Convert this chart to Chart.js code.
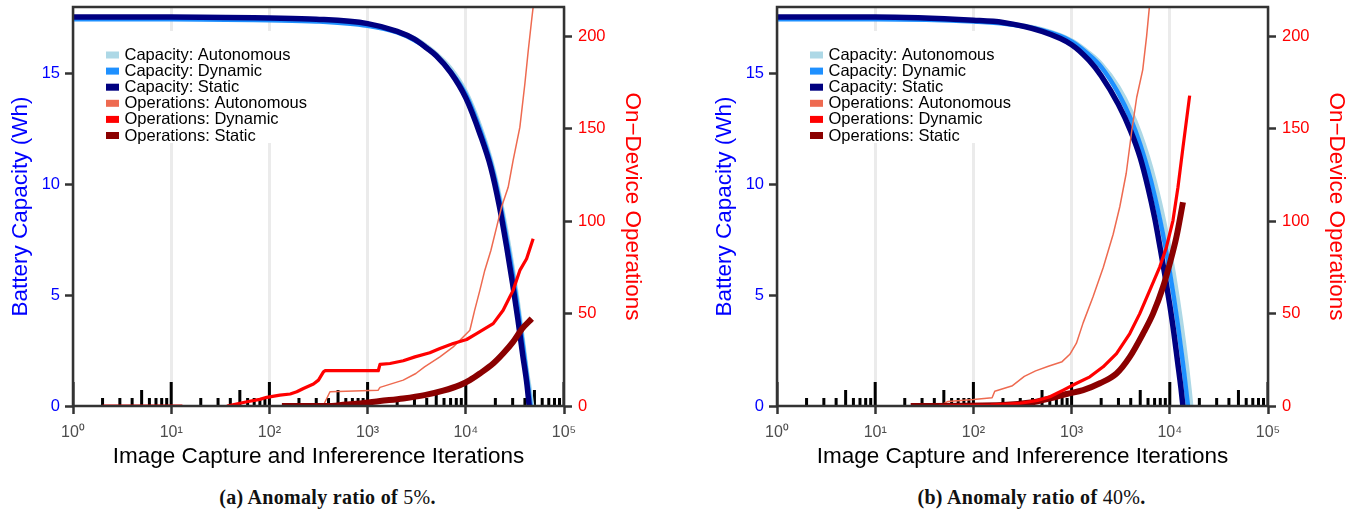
<!DOCTYPE html>
<html><head><meta charset="utf-8">
<script src="https://cdn.jsdelivr.net/npm/chart.js@4.4.0/dist/chart.umd.min.js"></script>
<style>
html,body{margin:0;padding:0;background:#fff;width:1359px;height:516px;overflow:hidden;position:relative;}
canvas{position:absolute;top:0;}
#cA{left:0px} #cB{left:704px}
.cap{position:absolute;top:486px;width:655px;text-align:center;font-family:"Liberation Serif","Times New Roman",serif;font-size:20px;font-weight:bold;color:#111;letter-spacing:0.3px;}
.cap .n{font-weight:normal;}
</style></head>
<body>
<canvas id="cA" width="655" height="480"></canvas>
<canvas id="cB" width="655" height="480"></canvas>
<div class="cap" style="left:0px">(a) Anomaly ratio of <span class="n">5%</span>.</div>
<div class="cap" style="left:704px">(b) Anomaly ratio of <span class="n">40%</span>.</div>
<script>
// ---------- axis / tick data ----------
const xTickValues = [1, 10, 100, 1000, 10000, 100000];
const xTickLabels = ['10⁰', '10¹', '10²', '10³', '10⁴', '10⁵'];
const capTickValues = [0, 5, 10, 15];
const opsTickValues = [0, 50, 100, 150, 200];
const capMax = 18;
const opsMax = 216;
const seriesLabels = ['Capacity: Autonomous', 'Capacity: Dynamic', 'Capacity: Static',
  'Operations: Autonomous', 'Operations: Dynamic', 'Operations: Static'];
const seriesColors = ['#ADD8E6', '#1E90FF', '#000080', '#EE6A50', '#FF0000', '#8B0000'];

// log tick rug along the bottom (positions and heights in Wh)
const rugLongX = [1, 10, 100, 1000, 10000, 100000];
const rugMidX = [5, 50, 500, 5000, 50000];
const rugShortX = [2, 3, 4, 6, 7, 8, 9, 20, 30, 40, 60, 70, 80, 90, 200, 300, 400, 600, 700, 800, 900,
  2000, 3000, 4000, 6000, 7000, 8000, 9000, 20000, 30000, 40000, 60000, 70000, 80000, 90000];
const rugLongH = 1.08, rugMidH = 0.72, rugShortH = 0.36;

// ---------- panel (a): anomaly ratio 5% ----------
const aCapAutoX = [1, 10, 100, 300, 1000, 2000, 3000, 4000, 5000, 7000, 10000, 14000, 18000, 22000, 26000, 30000, 34000, 38000, 42000, 46000, 47600];
const aCapAutoY = [17.5, 17.5, 17.45, 17.4, 17.2, 16.9, 16.6, 16.25, 15.9, 15.25, 14.2, 12.65, 11.15, 9.55, 7.9, 6.3, 4.7, 3.1, 1.6, 0.5, 0];
const aCapDynX = [1, 10, 100, 300, 1000, 2000, 3000, 4000, 5000, 7000, 10000, 14000, 18000, 22000, 26000, 30000, 34000, 38000, 42000, 45800];
const aCapDynY = [17.45, 17.45, 17.4, 17.35, 17.15, 16.85, 16.5, 16.15, 15.8, 15.1, 14.05, 12.45, 10.95, 9.3, 7.55, 5.95, 4.35, 2.8, 1.3, 0];
const aCapStatX = [1, 10, 100, 300, 1000, 2000, 3000, 4000, 5000, 7000, 10000, 14000, 18000, 22000, 26000, 30000, 34000, 38000, 42000, 44200];
const aCapStatY = [17.55, 17.55, 17.5, 17.45, 17.25, 16.9, 16.55, 16.15, 15.8, 15.05, 13.9, 12.25, 10.75, 9.0, 7.2, 5.5, 3.87, 2.3, 0.95, 0];
const aOpsAutoX = [2, 352, 414, 1277, 1337, 2307, 3100, 3800, 5450, 7450, 9400, 11000, 12300, 13900, 15600, 18000, 20600, 23200, 27000, 30300, 35500, 39900, 43200, 46700, 50000];
const aOpsAutoY = [0, 0, 7.7, 8.5, 10.1, 14, 17.6, 21.2, 26.6, 32, 37.4, 41, 51.8, 62.6, 73.4, 84.2, 96.8, 108, 118.4, 132.8, 150.8, 174.2, 192.2, 208.4, 222];
const aOpsDynX = [2, 13, 25, 37, 59, 80, 94, 128, 163, 190, 222, 281, 316, 355, 370, 1285, 1337, 1690, 2307, 3035, 4300, 5450, 7450, 10200, 12880, 19000, 24000, 30300, 35500, 41600, 48500];
const aOpsDynY = [0, 0, null, 0, 2.3, 3.6, 4.7, 5.9, 6.5, 7.7, 9.5, 11.9, 14, 18.5, 19.1, 19.1, 22.5, 23, 24.5, 26.6, 28.8, 31.1, 33.8, 36, 39.2, 44.6, 51.8, 62.6, 73.4, 79.7, 90.5];
const aOpsStatX = [134, 380, 600, 837, 1336, 2307, 3800, 5890, 8710, 11000, 13900, 19000, 24000, 30300, 37500, 47000];
const aOpsStatY = [0, 0, 0.8, 1.4, 2.7, 4.1, 5.9, 8.3, 11.3, 14, 17.6, 23, 28.4, 34.7, 41.9, 47.3];

// ---------- panel (b): anomaly ratio 40% ----------
const bCapAutoX = [1, 10, 100, 200, 500, 1000, 1500, 2000, 3000, 4000, 5000, 6000, 7000, 8000, 9000, 10000, 11000, 12000, 13000, 14000, 15000, 16000, 16600];
const bCapAutoY = [17.5, 17.5, 17.4, 17.3, 17.0, 16.5, 15.95, 15.45, 14.4, 13.35, 12.3, 11.25, 10.2, 9.15, 8.1, 7.05, 6.0, 4.95, 3.9, 2.85, 1.8, 0.7, 0];
const bCapDynX = [1, 10, 100, 200, 500, 1000, 1500, 2000, 3000, 4000, 5000, 6000, 7000, 8000, 9000, 10000, 11000, 12000, 13000, 14000, 15300];
const bCapDynY = [17.45, 17.45, 17.35, 17.25, 16.95, 16.45, 15.85, 15.3, 14.1, 12.95, 11.8, 10.65, 9.5, 8.35, 7.2, 6.05, 4.9, 3.75, 2.6, 1.5, 0];
const bCapStatX = [1, 10, 100, 200, 500, 1000, 1500, 2000, 3000, 4000, 5000, 6000, 7000, 8000, 9000, 10000, 11000, 12000, 13000, 13600];
const bCapStatY = [17.55, 17.55, 17.4, 17.3, 16.9, 16.3, 15.6, 14.9, 13.6, 12.4, 11.2, 9.85, 8.5, 7.1, 5.8, 4.55, 3.3, 2.0, 0.8, 0];
const bOpsAutoX = [4, 45, 55, 100, 155, 165, 250, 330, 430, 580, 800, 960, 1120, 1310, 1650, 2100, 2650, 3100, 3600, 4100, 4600, 5300, 5800, 6300];
const bOpsAutoY = [0, 0, 2.5, 3.5, 4.5, 8, 11, 16, 19, 21.5, 24, 28, 34, 45, 59, 75, 93, 108, 126, 149, 167, 182, 200, 220];
const bOpsDynX = [45, 150, 300, 450, 602, 822, 1124, 1534, 2096, 2866, 3915, 4945, 6250, 7890, 9240, 10770, 12110, 13620, 15930];
const bOpsDynY = [0, 0.5, 1.5, 3, 5, 8.6, 12.3, 15.8, 21.2, 28.4, 39.2, 50, 62.6, 75.2, 86, 100.4, 118.4, 140, 168];
const bOpsStatX = [23, 200, 400, 602, 890, 1312, 1940, 2866, 3915, 5340, 6750, 8530, 9980, 11670, 13620];
const bOpsStatY = [0, 0.5, 2, 4.1, 6.5, 8.6, 12.3, 17.6, 26.6, 39.2, 50, 64.4, 77, 91.4, 110.3];

// ---------- helpers ----------
Chart.defaults.font.family = '"Liberation Sans", Arial, Helvetica, sans-serif';

function pts(xs, ys) { return xs.map((x, i) => ({ x: x, y: ys[i] })); }
function rugPoints() {
  const out = [];
  const add = (xs, h) => xs.forEach(x => { out.push({ x: x, y: 0 }, { x: x, y: h }, { x: x, y: null }); });
  add(rugShortX, rugShortH); add(rugMidX, rugMidH); add(rugLongX, rugLongH);
  return out;
}

const legendLayout = { boxX: 28, boxTop: 31, boxW: 222, boxH: 112, swatchX: 33, swatchW: 13, swatchH: 7,
  textX: 51.5, firstRowY: 55, rowStep: 16.1, font: '16.5px "Liberation Sans", Arial, sans-serif' };

const boxLegend = {
  id: 'boxLegend',
  beforeDatasetsDraw(chart) {
    const ctx = chart.ctx, a = chart.chartArea, L = legendLayout;
    ctx.save();
    ctx.fillStyle = '#FFFFFF';
    ctx.fillRect(a.left + L.boxX, L.boxTop, L.boxW, L.boxH);
    ctx.font = L.font;
    ctx.textBaseline = 'middle';
    ctx.textAlign = 'left';
    let row = 0;
    chart.data.datasets.forEach(ds => {
      if (!ds.label) return;
      const y = L.firstRowY + row * L.rowStep;
      ctx.fillStyle = ds.borderColor;
      ctx.fillRect(a.left + L.swatchX, y - L.swatchH / 2, L.swatchW, L.swatchH);
      ctx.fillStyle = '#000000';
      ctx.fillText(ds.label, a.left + L.textX, y + 0.5);
      row++;
    });
    ctx.restore();
  }
};
const frame = {
  id: 'frame',
  afterDatasetsDraw(chart) {
    const ctx = chart.ctx, a = chart.chartArea;
    ctx.save();
    ctx.strokeStyle = '#333333';
    ctx.lineWidth = 2.5;
    ctx.strokeRect(a.left, a.top, a.right - a.left, a.bottom - a.top);
    ctx.restore();
  }
};

function makeChart(id, s) {
  const common = { pointRadius: 0, pointHoverRadius: 0, fill: false, borderCapStyle: 'butt', borderJoinStyle: 'round', spanGaps: false };
  const datasets = [
    Object.assign({ label: seriesLabels[0], data: pts(s.capAutoX, s.capAutoY), yAxisID: 'yCap', borderColor: seriesColors[0], borderWidth: 4, order: 6, cubicInterpolationMode: 'monotone' }, common),
    Object.assign({ label: seriesLabels[1], data: pts(s.capDynX, s.capDynY), yAxisID: 'yCap', borderColor: seriesColors[1], borderWidth: 4.5, order: 5, cubicInterpolationMode: 'monotone' }, common),
    Object.assign({ label: seriesLabels[2], data: pts(s.capStatX, s.capStatY), yAxisID: 'yCap', borderColor: seriesColors[2], borderWidth: 5.5, order: 4, cubicInterpolationMode: 'monotone' }, common),
    Object.assign({ label: seriesLabels[3], data: pts(s.opsAutoX, s.opsAutoY), yAxisID: 'yOps', borderColor: seriesColors[3], borderWidth: 1.5, order: 3 }, common),
    Object.assign({ label: seriesLabels[4], data: pts(s.opsDynX, s.opsDynY), yAxisID: 'yOps', borderColor: seriesColors[4], borderWidth: 3.2, order: 1 }, common),
    Object.assign({ label: seriesLabels[5], data: pts(s.opsStatX, s.opsStatY), yAxisID: 'yOps', borderColor: seriesColors[5], borderWidth: 6, order: 2, cubicInterpolationMode: 'monotone' }, common),
    Object.assign({ label: '', data: rugPoints(), yAxisID: 'yCap', borderColor: '#000000', borderWidth: 3, order: 10 }, common)
  ];
  return new Chart(document.getElementById(id), {
    type: 'line',
    data: { datasets: datasets },
    plugins: [boxLegend, frame],
    options: {
      responsive: false, animation: false, devicePixelRatio: 1, events: [],
      layout: { padding: { top: 7, left: 0, right: 0, bottom: 0 } },
      plugins: { legend: { display: false }, tooltip: { enabled: false } },
      scales: {
        x: {
          type: 'logarithmic', position: 'bottom', min: 1, max: 100000,
          afterBuildTicks: sc => { sc.ticks = xTickValues.map(v => ({ value: v })); },
          afterFit: sc => { sc.height = 74; sc.paddingLeft = 0; sc.paddingRight = 0; },
          ticks: { callback: (v, i) => xTickLabels[i], color: '#4D4D4D', font: { size: 16 }, padding: 9, autoSkip: false, maxRotation: 0, minRotation: 0 },
          grid: { color: '#EBEBEB', lineWidth: 3, drawTicks: true, tickLength: 8, tickColor: '#333333', tickWidth: 2.5 },
          border: { display: false },
          title: { display: true, text: 'Image Capture and Infererence Iterations', color: '#000000', font: { size: 22.5 }, padding: { top: 0, bottom: 9.5 } }
        },
        yCap: {
          type: 'linear', position: 'left', min: 0, max: capMax,
          afterBuildTicks: sc => { sc.ticks = capTickValues.map(v => ({ value: v })); },
          afterFit: sc => { sc.width = 73; sc.paddingTop = 0; sc.paddingBottom = 0; },
          ticks: { color: '#0000FF', font: { size: 16.5 }, padding: 5 },
          grid: { drawOnChartArea: false, drawTicks: true, tickLength: 8, tickColor: '#333333', tickWidth: 2.5, color: '#333333' },
          border: { display: false },
          title: { display: true, text: 'Battery Capacity (Wh)', color: '#0000FF', font: { size: 22.5 }, padding: { top: 7, bottom: 0 } }
        },
        yOps: {
          type: 'linear', position: 'right', min: 0, max: opsMax,
          afterBuildTicks: sc => { sc.ticks = opsTickValues.map(v => ({ value: v })); },
          afterFit: sc => { sc.width = 91; sc.paddingTop = 0; sc.paddingBottom = 0; },
          ticks: { color: '#FF0000', font: { size: 16.5 }, padding: 6 },
          grid: { drawOnChartArea: false, drawTicks: true, tickLength: 8, tickColor: '#333333', tickWidth: 2.5, color: '#333333' },
          border: { display: false },
          title: { display: true, text: 'On\u2212Device Operations', color: '#FF0000', font: { size: 22.5 }, padding: { top: 9, bottom: 0 } }
        }
      }
    }
  });
}

makeChart('cA', {
  capAutoX: aCapAutoX, capAutoY: aCapAutoY, capDynX: aCapDynX, capDynY: aCapDynY, capStatX: aCapStatX, capStatY: aCapStatY,
  opsAutoX: aOpsAutoX, opsAutoY: aOpsAutoY, opsDynX: aOpsDynX, opsDynY: aOpsDynY, opsStatX: aOpsStatX, opsStatY: aOpsStatY
});
makeChart('cB', {
  capAutoX: bCapAutoX, capAutoY: bCapAutoY, capDynX: bCapDynX, capDynY: bCapDynY, capStatX: bCapStatX, capStatY: bCapStatY,
  opsAutoX: bOpsAutoX, opsAutoY: bOpsAutoY, opsDynX: bOpsDynX, opsDynY: bOpsDynY, opsStatX: bOpsStatX, opsStatY: bOpsStatY
});
</script>
</body></html>
